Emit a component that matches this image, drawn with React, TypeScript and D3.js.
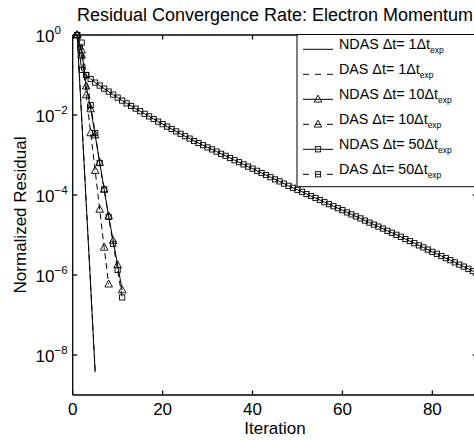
import React from 'react';
import * as d3 from 'd3';

const W = 474;
const H = 440;
const titleText = 'Residual Convergence Rate: Electron Momentum';
const xLabelText = 'Iteration';
const yLabelText = 'Normalized Residual';
const xTicks = [0, 20, 40, 60, 80];
const yTickExps = [0, -2, -4, -6, -8];
const xDomain = [0, 90];
const yDomain = [1e-9, 1];

// log10 of the normalized residual, one value per iteration starting at iteration 1
const ndas1Exp = [0, -2.1, -4.2, -6.3, -8.43];
const das1Exp = [0, -2.05, -4.15, -6.25, -8.4];
const ndas10Exp = [0, -0.38, -1.28, -1.85, -2.5, -3.19, -3.86, -4.53, -5.14, -5.75, -6.375];
const das10Exp = [0, -0.5, -1.5, -2.45, -3.39, -4.36, -5.31, -6.23];
const ndas50Exp = [
  0, -0.875, -1.0, -1.1, -1.19, -1.265, -1.34, -1.415, -1.49, -1.565,
  -1.64, -1.71, -1.775, -1.84, -1.905, -1.97, -2.035, -2.1, -2.165, -2.23,
  -2.29, -2.35, -2.41, -2.47, -2.53, -2.59, -2.65, -2.7, -2.755, -2.81,
  -2.86, -2.915, -2.97, -3.02, -3.075, -3.13, -3.18, -3.235, -3.29, -3.34,
  -3.395, -3.45, -3.5, -3.555, -3.61, -3.66, -3.715, -3.77, -3.82, -3.87,
  -3.92, -3.975, -4.025, -4.075, -4.125, -4.18, -4.23, -4.28, -4.33, -4.38,
  -4.435, -4.485, -4.535, -4.585, -4.64, -4.69, -4.74, -4.79, -4.84, -4.895,
  -4.945, -4.995, -5.045, -5.1, -5.15, -5.205, -5.26, -5.31, -5.365, -5.42,
  -5.47, -5.525, -5.58, -5.63, -5.685, -5.74, -5.79, -5.845, -5.9, -5.95,
];
const das50Exp = [0, -0.19, -1.0, -1.75, -2.45, -3.2, -3.86, -4.55, -5.22, -5.875, -6.56];

const seriesNames = ['NDAS', 'DAS', 'NDAS', 'DAS', 'NDAS', 'DAS'];
const seriesSteps = [1, 1, 10, 10, 50, 50];
const seriesExps = [ndas1Exp, das1Exp, ndas10Exp, das10Exp, ndas50Exp, das50Exp];
const seriesDashed = [false, true, false, true, false, true];
const seriesMarker = ['none', 'none', 'triangle', 'triangle', 'square', 'square'];

const FONT = '"Liberation Sans", Arial, Helvetica, sans-serif';

const plotL = 72.7;
const plotR = 477.3;
const plotT = 35;
const plotB = 395;

function Marker({ kind, x, y }: { kind: string; x: number; y: number }) {
  if (kind === 'triangle') {
    const p = `M${x},${y - 4.2}L${x + 3.8},${y + 2.8}L${x - 3.8},${y + 2.8}Z`;
    return <path d={p} fill="none" stroke="#000" strokeWidth={0.9} />;
  }
  if (kind === 'square') {
    return <rect x={x - 2.6} y={y - 2.6} width={5.2} height={5.2} fill="none" stroke="#000" strokeWidth={0.9} />;
  }
  return null;
}

export default function App() {
  const x = d3.scaleLinear().domain(xDomain).range([plotL, plotR]);
  const y = d3.scaleLog().domain(yDomain).range([plotB, plotT]);

  const series = seriesExps.map((exps, i) => ({
    pts: exps.map((e, k) => ({ it: k + 1, v: Math.pow(10, e) })),
    dashed: seriesDashed[i],
    marker: seriesMarker[i],
  }));

  const line = d3
    .line<{ it: number; v: number }>()
    .x((d) => x(d.it))
    .y((d) => y(d.v));

  const tickLen = 4.5;
  const legX = 297;
  const legY = 34.5;
  const rowY0 = 49.3;
  const rowDy = 25;

  return (
    <svg
      width={W}
      height={H}
      style={{ position: 'absolute', left: 0, top: 0, background: '#fff' }}
      fontFamily={FONT}
    >
      <defs>
        <clipPath id="plotClip">
          <rect x={plotL} y={plotT - 6} width={plotR - plotL} height={plotB - plotT + 6} />
        </clipPath>
      </defs>
      <rect x={0} y={0} width={W} height={H} fill="#fff" />

      {/* title */}
      <text x={(plotL + plotR) / 2} y={21} fontSize={18} textAnchor="middle" fill="#000">
        {titleText}
      </text>

      {/* series */}
      <g clipPath="url(#plotClip)">
        {series.map((s, i) => (
          <g key={i}>
            <path
              d={line(s.pts) || ''}
              fill="none"
              stroke="#000"
              strokeWidth={1}
              strokeDasharray={s.dashed ? '6,4' : undefined}
            />
            {s.marker !== 'none' &&
              s.pts.map((p, k) => <Marker key={k} kind={s.marker} x={x(p.it)} y={y(p.v)} />)}
          </g>
        ))}
      </g>

      {/* axes box */}
      <g stroke="#000" strokeWidth={1.3} fill="none">
        <line x1={plotL} y1={plotT} x2={plotR} y2={plotT} />
        <line x1={plotL} y1={plotB} x2={plotR} y2={plotB} />
        <line x1={plotL} y1={plotT} x2={plotL} y2={plotB} />
        <line x1={plotR} y1={plotT} x2={plotR} y2={plotB} />
        {xTicks.map((t) => (
          <g key={t}>
            <line x1={x(t)} y1={plotB} x2={x(t)} y2={plotB - tickLen} />
            <line x1={x(t)} y1={plotT} x2={x(t)} y2={plotT + tickLen} />
          </g>
        ))}
        {yTickExps.map((e) => (
          <g key={e}>
            <line x1={plotL} y1={y(Math.pow(10, e))} x2={plotL + tickLen} y2={y(Math.pow(10, e))} />
            <line x1={plotR} y1={y(Math.pow(10, e))} x2={plotR - tickLen} y2={y(Math.pow(10, e))} />
          </g>
        ))}
      </g>

      {/* x tick labels */}
      {xTicks.map((t) => (
        <text key={t} x={x(t)} y={415} fontSize={17} textAnchor="middle" fill="#000">
          {t}
        </text>
      ))}
      <text x={(plotL + plotR) / 2} y={433.5} fontSize={17} textAnchor="middle" fill="#000">
        {xLabelText}
      </text>

      {/* y tick labels */}
      {yTickExps.map((e) => (
        <text key={e} x={35.5} y={y(Math.pow(10, e)) + 6.5} fontSize={17} fill="#000">
          10
          <tspan dy={-7.5} fontSize={11.5}>
            {e === 0 ? '0' : `\u2212${-e}`}
          </tspan>
        </text>
      ))}
      <text
        transform={`translate(26,${(plotT + plotB) / 2}) rotate(-90)`}
        fontSize={17}
        textAnchor="middle"
        fill="#000"
      >
        {yLabelText}
      </text>

      {/* legend */}
      <rect x={legX} y={legY} width={220} height={152.2} fill="#fff" stroke="#000" strokeWidth={1} />
      {seriesNames.map((n, i) => {
        const ry = rowY0 + rowDy * i;
        return (
          <g key={i}>
            <line
              x1={303}
              y1={ry}
              x2={333}
              y2={ry}
              stroke="#000"
              strokeWidth={1}
              strokeDasharray={seriesDashed[i] ? '6,6' : undefined}
            />
            <Marker kind={seriesMarker[i]} x={318} y={ry} />
            <text x={339} y={ry} fontSize={14.3} fill="#000">
              {`${n} \u0394t= ${seriesSteps[i]}\u0394t`}
              <tspan dy={3.5} fontSize={8.5}>
                exp
              </tspan>
            </text>
          </g>
        );
      })}
    </svg>
  );
}
